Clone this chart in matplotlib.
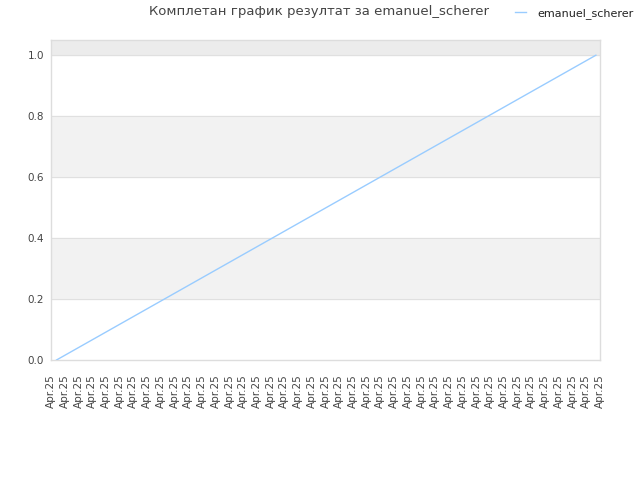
import matplotlib
matplotlib.use("Agg")
import matplotlib.pyplot as plt
import numpy as np

# data
player = "emanuel_scherer"
title = "Комплетан график резултат за emanuel_scherer"
tick_labels = ["Apr.25"] * 41
tick_pos = list(range(41))
game_x = [0.4, 39.7]
score = [0.0, 1.0]
y_ticks = [0.0, 0.2, 0.4, 0.6, 0.8, 1.0]

fig = plt.figure(figsize=(6.4, 4.8), dpi=100)
ax = fig.add_axes([0.0797, 0.25, 0.8578, 0.6667])

ax.set_xlim(0, 40)
ax.set_ylim(0, 1.05)

# alternating bands
ax.axhspan(0.2, 0.4, color="#f2f2f2", zorder=0)
ax.axhspan(0.6, 0.8, color="#f2f2f2", zorder=0)
ax.axhspan(1.0, 1.05, color="#ececec", zorder=0)
for y in y_ticks[1:]:
    ax.axhline(y, color="#e0e0e0", lw=0.8, zorder=1)

ax.plot(game_x, score, color="#99ccff", lw=1.0, label=player, zorder=3)

ax.set_xticks(tick_pos)
ax.set_xticklabels(tick_labels, rotation=90, fontsize=7.5, color="#444444")
ax.set_yticks(y_ticks)
ax.set_yticklabels(["%.1f" % v for v in y_ticks], fontsize=7.5, color="#444444")
ax.tick_params(axis="x", length=0, pad=10)
ax.tick_params(axis="y", length=0, pad=5)

for s in ax.spines.values():
    s.set_color("#dddddd")
    s.set_linewidth(1.0)

fig.text(0.498, 0.975, title, ha="center", va="center", fontsize=9.5, color="#444444")
leg = fig.legend(loc="upper right", bbox_to_anchor=(1.005, 1.005), frameon=False,
                 fontsize=8, handlelength=1.0, handletextpad=1.0)
for t in leg.get_texts():
    t.set_color("#222222")

fig.savefig("out.png", dpi=100)
